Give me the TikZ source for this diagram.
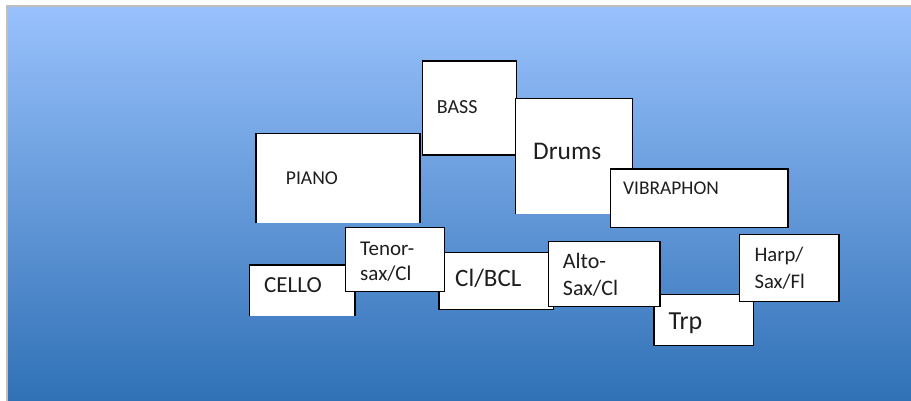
\documentclass[tikz,border=0pt]{standalone}
\usepackage{fontspec}
\setmainfont{Carlito}
\definecolor{bgtop}{RGB}{152,193,252}
\definecolor{bgmid}{RGB}{105,155,220}
\definecolor{bgbot}{RGB}{48,113,182}
\definecolor{edge}{RGB}{190,190,190}
\definecolor{ink}{RGB}{30,30,30}
\begin{document}
\begin{tikzpicture}[x=1pt,y=-1pt,
  box/.style={fill=white,draw=black,line width=1.4pt,anchor=north west,inner sep=0pt,outer sep=0pt},
  openbox/.style={fill=white,anchor=north west,inner sep=0pt,outer sep=0pt},
  side/.style={draw=black,line width=1.4pt},
  lbl/.style={anchor=base west,inner sep=0pt,text=ink,align=left}]
\useasboundingbox (0,0) rectangle (911,401);
\fill[white] (0,0) rectangle (911,401);
\fill[edge] (5.5,5.5) rectangle (911,7.5);
\fill[edge] (5.5,5.5) rectangle (8,401);
\shade[top color=bgtop, middle color=bgmid, bottom color=bgbot] (8,7.5) rectangle (911,401);

% PIANO (open bottom)
\node[openbox,minimum width=164pt,minimum height=89pt] (piano) at (256,133.7) {};
\draw[side] (piano.south west) -- (piano.north west) -- (piano.north east) -- (piano.south east);
\node[lbl,font=\fontsize{19.6}{24}\selectfont] (pianot) at (285.7,184.3) {PIANO};

% BASS
\node[box,minimum width=94pt,minimum height=94pt] (bass) at (422.7,61) {};
\node[lbl,font=\fontsize{20}{24}\selectfont] (basst) at (436.7,113.4) {BASS};

% Drums (open bottom)
\node[openbox,minimum width=117pt,minimum height=116pt] (drums) at (515.7,98.3) {};
\draw[side] (drums.south west) -- (drums.north west) -- (drums.north east) -- (drums.south east);
\node[lbl,font=\fontsize{25.4}{30}\selectfont] (drumst) at (533,159.9) {Drums};

% VIBRAPHON
\node[box,minimum width=177.3pt,minimum height=58.7pt] (vib) at (610.7,169) {};
\node[lbl,font=\fontsize{19.4}{24}\selectfont] (vibt) at (623,194.2) {VIBRAPHON};

% CELLO (open bottom)
\node[openbox,minimum width=105.3pt,minimum height=51pt] (cello) at (249.7,265) {};
\draw[side] (cello.south west) -- (cello.north west) -- (cello.north east) -- (cello.south east);
\node[lbl,font=\fontsize{23}{27}\selectfont] (cellot) at (264,292.4) {CELLO};

% Cl/BCL
\node[box,minimum width=114.3pt,minimum height=57pt] (clbcl) at (439,252.3) {};
\node[lbl,font=\fontsize{25}{30}\selectfont] (clbclt) at (455,286) {Cl/BCL};

% Tenor-sax/Cl
\node[box,minimum width=99pt,minimum height=64.4pt] (tenor) at (345.7,227.3) {};
\node[lbl,font=\fontsize{21}{25}\selectfont] (tenort) at (360,280.8) {Tenor-\\sax/Cl};

% Trp
\node[box,minimum width=99.7pt,minimum height=51pt] (trp) at (654,294.7) {};
\node[lbl,font=\fontsize{26}{30}\selectfont] (trpt) at (668.3,329.3) {Trp};

% Alto-Sax/Cl
\node[box,minimum width=111.7pt,minimum height=65.4pt] (alto) at (548.3,241.3) {};
\node[lbl,font=\fontsize{22}{26.6}\selectfont] (altot) at (562.7,295.4) {Alto-\\Sax/Cl};

% Harp/Sax/Fl
\node[box,minimum width=99.3pt,minimum height=67pt] (harp) at (739.7,234.7) {};
\node[lbl,font=\fontsize{20.7}{26.7}\selectfont] (harpt) at (754.3,288.4) {Harp/\\Sax/Fl};
\end{tikzpicture}
\end{document}
